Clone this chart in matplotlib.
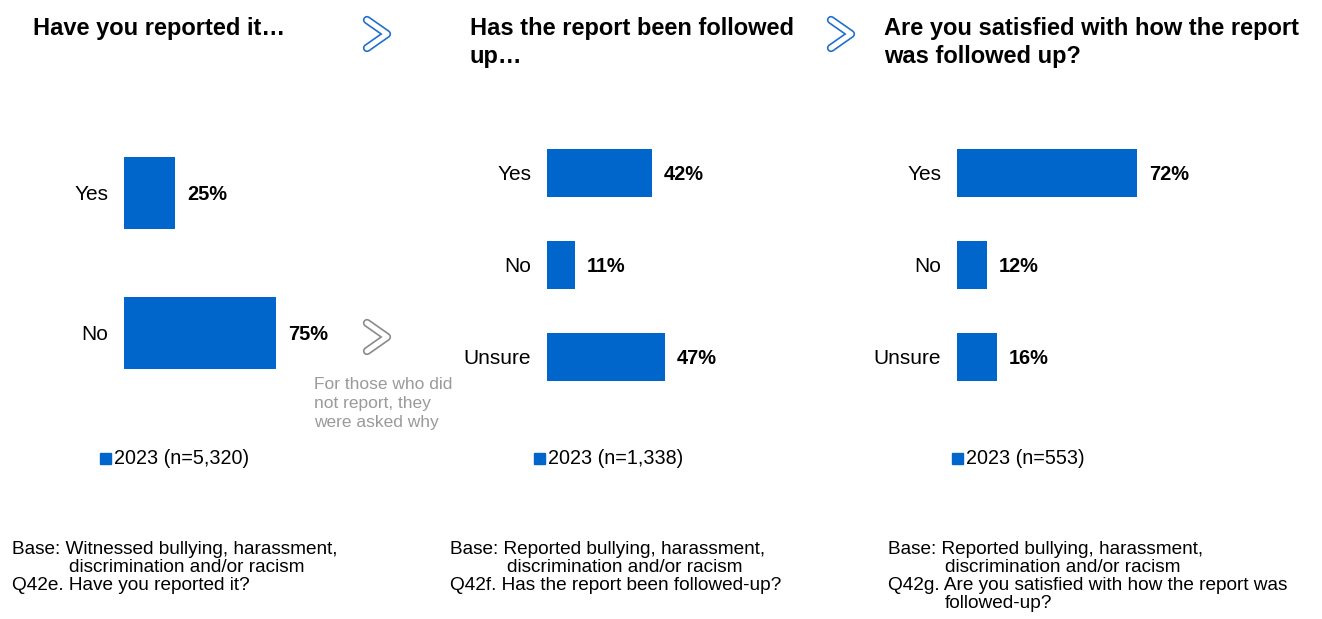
import matplotlib.pyplot as plt

plt.rcParams['font.family'] = ['Liberation Sans', 'DejaVu Sans']

# data
cats_reported = ['Yes', 'No']
vals_reported = [25, 75]
cats_followed = ['Yes', 'No', 'Unsure']
vals_followed = [42, 11, 47]
cats_satisfied = ['Yes', 'No', 'Unsure']
vals_satisfied = [72, 12, 16]

titles = ['Have you reported it…',
          'Has the report been followed\nup…',
          'Are you satisfied with how the report\nwas followed up?']
legends = ['2023 (n=5,320)', '2023 (n=1,338)', '2023 (n=553)']
# (text, indented?)
footnotes = [
    [('Base: Witnessed bullying, harassment,', False), ('discrimination and/or racism', True),
     ('Q42e. Have you reported it?', False)],
    [('Base: Reported bullying, harassment,', False), ('discrimination and/or racism', True),
     ('Q42f. Has the report been followed-up?', False)],
    [('Base: Reported bullying, harassment,', False), ('discrimination and/or racism', True),
     ('Q42g. Are you satisfied with how the report was', False), ('followed-up?', True)],
]

BLUE = '#0066cc'
W, H = 1322, 619
fig = plt.figure(figsize=(W / 100, H / 100), dpi=100)


def px_axes(left, top, width, height):
    return fig.add_axes([left / W, (H - top - height) / H, width / W, height / H])


def fx(x):
    return x / W


def fy(y):
    return (H - y) / H


panels = [
    (cats_reported, vals_reported, (124, 123, 203, 280), 0.514),
    (cats_followed, vals_followed, (547, 127, 250, 276), 0.52),
    (cats_satisfied, vals_satisfied, (957, 127, 250, 276), 0.52),
]

for cats, vals, box, bh in panels:
    ax = px_axes(*box)
    ys = list(range(len(cats)))
    ax.barh(ys, vals, height=bh, color=BLUE)
    for y, v in zip(ys, vals):
        ax.annotate(f'{v}%', (v, y), xytext=(12, 0), textcoords='offset pixels',
                    va='center_baseline', ha='left', fontsize=14.4, fontweight='bold')
    ax.set_xlim(0, 100)
    ax.set_ylim(len(cats) - 0.5, -0.5)
    ax.set_yticks(ys)
    ax.set_yticklabels(cats, fontsize=15, va='center_baseline')
    ax.tick_params(axis='y', length=0, pad=11.5)
    ax.set_xticks([])
    for s in ax.spines.values():
        s.set_visible(False)

# titles
title_x = [33, 470, 884]
for x, t in zip(title_x, titles):
    fig.text(fx(x), fy(17), t, fontsize=17, fontweight='bold', va='top', ha='left',
             linespacing=1.25)

# legends
leg_x = [100, 534, 952]
for x, lab in zip(leg_x, legends):
    fig.patches.append(plt.Rectangle((fx(x), fy(464)), 11 / W, 11 / H,
                                     transform=fig.transFigure, color=BLUE))
    fig.text(fx(x + 14), fy(459), lab, fontsize=14.2, va='center', ha='left')

# footnotes
foot_x = [12, 450, 888]
for x, lines in zip(foot_x, footnotes):
    for i, (line, indent) in enumerate(lines):
        fig.text(fx(x + (57 if indent else 0)), fy(549 + i * 18), line, fontsize=13.7,
                 va='center', ha='left')

# note
fig.text(fx(314), fy(377), 'For those who did\nnot report, they\nwere asked why',
         fontsize=12.5, color='#9a9a9a', va='top', ha='left', linespacing=1.35)

# chevrons
def chevron(x, y, color):
    xs = [fx(x), fx(x + 20), fx(x)]
    ys = [fy(y - 14), fy(y), fy(y + 14)]
    fig.add_artist(plt.Line2D(xs, ys, transform=fig.transFigure, color=color, lw=6,
                              solid_capstyle='round', solid_joinstyle='round'))
    fig.add_artist(plt.Line2D(xs, ys, transform=fig.transFigure, color='white', lw=3.6,
                              solid_capstyle='round', solid_joinstyle='round'))


chevron(367, 34, '#1f6fd1')
chevron(831, 34, '#1f6fd1')
chevron(367, 337, '#8a8a8a')

fig.savefig('out.png', dpi=100)
